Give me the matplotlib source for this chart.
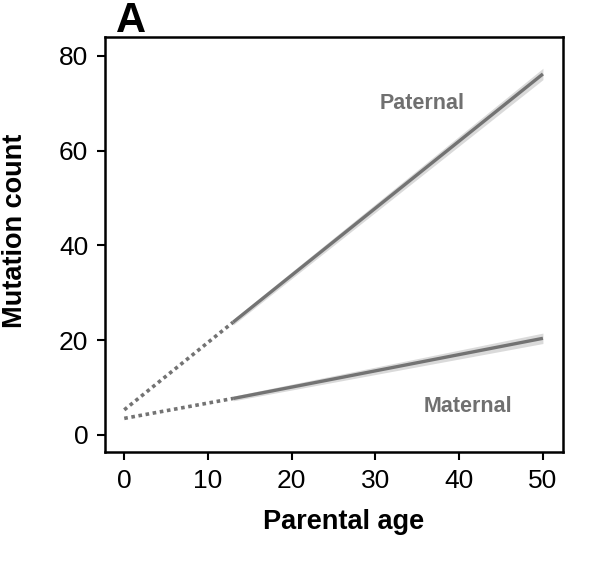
import matplotlib
matplotlib.use("Agg")
import matplotlib.pyplot as plt
import numpy as np

plt.rcParams['font.family'] = ['Liberation Sans', 'DejaVu Sans']

# Data
paternal_age = [13, 50]
paternal_count = [23.8, 76.2]
paternal_extrap_age = [0, 13]
paternal_extrap_count = [5.3, 23.8]
paternal_ci = [0.6, 1.2]

maternal_age = [13, 50]
maternal_count = [7.7, 20.4]
maternal_extrap_age = [0, 13]
maternal_extrap_count = [3.5, 7.7]
maternal_ci = [0.5, 1.1]

xticks = [0, 10, 20, 30, 40, 50]
yticks = [0, 20, 40, 60, 80]

line_color = '#737373'
band_color = '#dadada'
label_color = '#707070'

fig = plt.figure(figsize=(6.09, 5.66), dpi=100)
ax = fig.add_axes([0.1724, 0.2014, 0.7521, 0.7332])

for age, cnt, ci, eage, ecnt in [
    (paternal_age, paternal_count, paternal_ci, paternal_extrap_age, paternal_extrap_count),
    (maternal_age, maternal_count, maternal_ci, maternal_extrap_age, maternal_extrap_count),
]:
    a = np.array(age, float); c = np.array(cnt, float); w = np.array(ci, float)
    ax.fill_between(a, c - w, c + w, color=band_color, lw=0, zorder=1)
    ax.plot(a, c, color=line_color, lw=2.4, solid_capstyle='butt', zorder=2)
    ax.plot(eage, ecnt, color=line_color, lw=2.6, linestyle=(0, (1.0, 1.0)), zorder=2)

ax.text(35.6, 70, 'Paternal', color=label_color, fontsize=15.5, fontweight='bold',
        ha='center', va='center')
ax.text(41.0, 6.1, 'Maternal', color=label_color, fontsize=15.5, fontweight='bold',
        ha='center', va='center')

ax.set_xlim(-2.3, 52.4)
ax.set_ylim(-3.6, 84)
ax.set_xticks(xticks)
ax.set_yticks(yticks)
ax.tick_params(axis='both', direction='out', length=6, width=1.5, labelsize=19, pad=6, color='black')
for s in ax.spines.values():
    s.set_linewidth(1.8)
    s.set_color('black')

ax.set_xlabel('Parental age', fontsize=19.5, fontweight='bold', labelpad=12)
ax.set_ylabel('Mutation count', fontsize=19.5, fontweight='bold', labelpad=22)
ax.xaxis.label.set_x(0.521)
ax.yaxis.label.set_y(0.533)

fig.text(116/609, 1 - 32/566, 'A', fontsize=30, fontweight='bold', ha='left', va='baseline')

fig.savefig('out.png', dpi=100)
